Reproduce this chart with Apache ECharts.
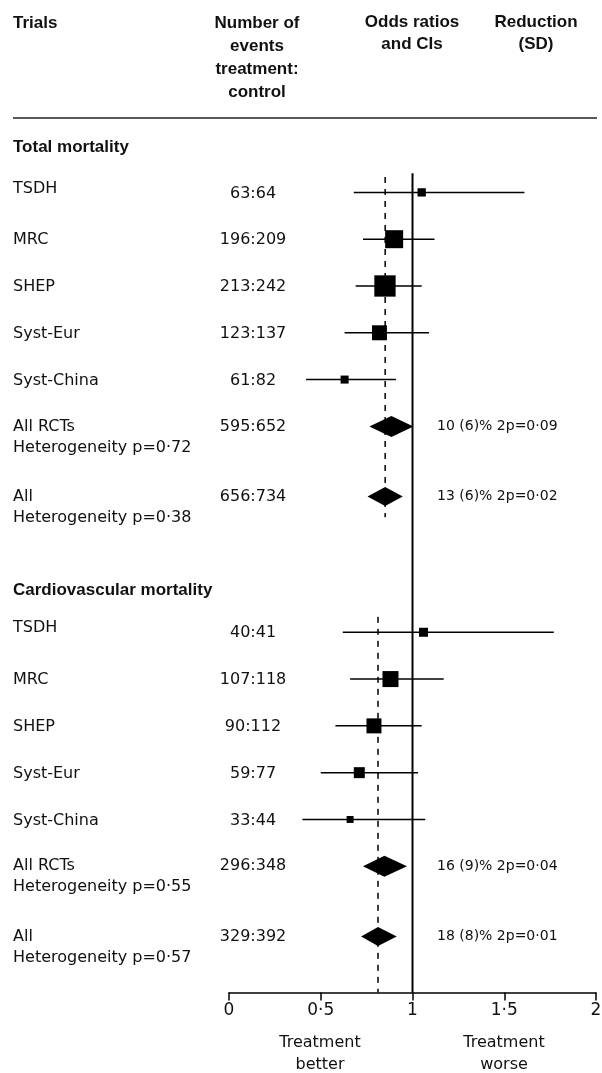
<!DOCTYPE html>
<html><head><meta charset="utf-8">
<script src="https://cdn.jsdelivr.net/npm/echarts@6/dist/echarts.min.js"></script>
<style>html,body{margin:0;padding:0;background:#fff}#c{width:602px;height:1073px}</style>
</head><body><div id="c"></div>
<script>
// ---------------- data ----------------
const trialNames = ['TSDH', 'MRC', 'SHEP', 'Syst-Eur', 'Syst-China'];
const sectionTitles = ['Total mortality', 'Cardiovascular mortality'];
const poolNames = ['All RCTs', 'All'];

// Total mortality
const totEvents = ['63:64', '196:209', '213:242', '123:137', '61:82'];
const totOR = [1.05, 0.90, 0.85, 0.82, 0.63];
const totLo = [0.68, 0.73, 0.69, 0.63, 0.42];
const totHi = [1.61, 1.12, 1.05, 1.09, 0.91];
const totWeight = [6.1, 28.7, 40.2, 19.9, 5.7];
const totPoolHet = ['Heterogeneity p=0·72', 'Heterogeneity p=0·38'];
const totPoolEvents = ['595:652', '656:734'];
const totPoolOR = [0.885, 0.851];
const totPoolLo = [0.765, 0.755];
const totPoolHi = [1.005, 0.947];
const totPoolReduction = ['10 (6)% 2p=0·09', '13 (6)% 2p=0·02'];

// Cardiovascular mortality
const cvEvents = ['40:41', '107:118', '90:112', '59:77', '33:44'];
const cvOR = [1.06, 0.88, 0.79, 0.71, 0.66];
const cvLo = [0.62, 0.66, 0.58, 0.50, 0.40];
const cvHi = [1.77, 1.17, 1.05, 1.03, 1.07];
const cvWeight = [7.2, 22.7, 19.9, 10.7, 4.3];
const cvPoolHet = ['Heterogeneity p=0·55', 'Heterogeneity p=0·57'];
const cvPoolEvents = ['296:348', '329:392'];
const cvPoolOR = [0.847, 0.812];
const cvPoolLo = [0.73, 0.72];
const cvPoolHi = [0.97, 0.914];
const cvPoolReduction = ['16 (9)% 2p=0·04', '18 (8)% 2p=0·01'];

const xTicks = [0, 0.5, 1, 1.5, 2];
const nullOR = 1;

// ---------------- layout (row slots) ----------------
const sectionStart = [0, 9.4];
const SLOT_MIN = -0.5, SLOT_MAX = 17.1;

const sections = [
  {ev: totEvents, or: totOR, lo: totLo, hi: totHi, w: totWeight,
   pHet: totPoolHet, pEv: totPoolEvents, pOR: totPoolOR, pLo: totPoolLo, pHi: totPoolHi, pRed: totPoolReduction},
  {ev: cvEvents, or: cvOR, lo: cvLo, hi: cvHi, w: cvWeight,
   pHet: cvPoolHet, pEv: cvPoolEvents, pOR: cvPoolOR, pLo: cvPoolLo, pHi: cvPoolHi, pRed: cvPoolReduction}
];

const trialData = [];   // [lo, or, hi, slot, weight]
const poolData = [];    // [lo, or, hi, slot, kind]
const labelRows = [];   // {slot, name, sub, events, red, nameShift}
const refData = [];     // [x, slotFrom, slotTo, dashed]

sections.forEach((s, si) => {
  const st = sectionStart[si];
  trialNames.forEach((n, i) => {
    trialData.push([s.lo[i], s.or[i], s.hi[i], st + i, s.w[i]]);
    labelRows.push({slot: st + i, name: n, sub: null, events: s.ev[i], red: null, nameShift: i === 0 ? -4 : 1});
  });
  poolNames.forEach((n, k) => {
    const slot = st + (k === 0 ? 5 : 6.5);
    poolData.push([s.pLo[k], s.pOR[k], s.pHi[k], slot, k]);
    labelRows.push({slot: slot, name: n, sub: s.pHet[k], events: s.pEv[k], red: s.pRed[k], nameShift: 0});
  });
  // dashed line at the overall pooled odds ratio
  refData.push([s.pOR[1], st - 0.33, si === 0 ? st + 6.94 : SLOT_MAX, 1]);
});
refData.push([nullOR, -0.41, SLOT_MAX, 0]);

const TXT = '#111';
const REG = '"DejaVu Sans", sans-serif';
const BOLD = '"Liberation Sans", Arial, sans-serif';

function boxSize(w) { return 3.36 * Math.sqrt(w); }

const chart = echarts.init(document.getElementById('c'), null, {renderer: 'canvas'});

function txt(text, x, y, opts) {
  return {
    type: 'text', silent: true,
    style: Object.assign({text: text, x: x, y: y, fill: TXT, fontSize: 16, fontFamily: REG,
      align: 'left', verticalAlign: 'middle'}, opts || {})
  };
}
const H = {fontSize: 17, fontFamily: BOLD, fontWeight: 'bold'};
const Hc = Object.assign({align: 'center'}, H);

const graphics = [
  txt('Trials', 13, 23, H),
  txt('Number of', 257, 23, Hc),
  txt('events', 257, 46, Hc),
  txt('treatment:', 257, 69, Hc),
  txt('control', 257, 92, Hc),
  txt('Odds ratios', 412, 22, Hc),
  txt('and CIs', 412, 44, Hc),
  txt('Reduction', 536, 22, Hc),
  txt('(SD)', 536, 44, Hc),
  {type: 'line', silent: true, shape: {x1: 13, y1: 118, x2: 597, y2: 118}, style: {stroke: '#222', lineWidth: 1.5}},
  txt(sectionTitles[0], 13, 147, H),
  txt(sectionTitles[1], 13, 590.5, H),
  txt('Treatment', 320, 1043, {align: 'center'}),
  txt('better', 320, 1065, {align: 'center'}),
  txt('Treatment', 504, 1043, {align: 'center'}),
  txt('worse', 504, 1065, {align: 'center'})
];

const option = {
  animation: false,
  backgroundColor: '#fff',
  grid: {left: 229, right: 6, top: 169, bottom: 80.4, containLabel: false, outerBoundsMode: 'none'},
  xAxis: {
    type: 'value', min: xTicks[0], max: xTicks[xTicks.length - 1], interval: xTicks[1] - xTicks[0],
    axisLine: {show: true, onZero: false, lineStyle: {color: '#000', width: 1.5}},
    axisTick: {show: true, inside: false, length: 8, lineStyle: {color: '#000', width: 1.5}},
    axisLabel: {show: true, margin: 9, fontSize: 17, fontFamily: REG, color: TXT,
      showMinLabel: true, showMaxLabel: true,
      formatter: v => String(v).replace('.', '·')},
    splitLine: {show: false}
  },
  yAxis: {type: 'value', min: SLOT_MIN, max: SLOT_MAX, inverse: true, show: false,
    splitLine: {show: false}},
  graphic: graphics,
  series: [
    {
      type: 'custom', name: 'refs', data: refData, encode: {x: 0, y: 1}, silent: true, z: 1,
      renderItem: (params, api) => {
        const p1 = api.coord([api.value(0), api.value(1)]);
        const p2 = api.coord([api.value(0), api.value(2)]);
        const dashed = api.value(3) === 1;
        return {type: 'line', shape: {x1: p1[0], y1: p1[1], x2: p2[0], y2: p2[1]},
          style: {stroke: '#000', lineWidth: dashed ? 1.5 : 2, lineDash: dashed ? [6, 6] : null}};
      }
    },
    {
      type: 'custom', name: 'trials', data: trialData, encode: {x: [0, 1, 2], y: 3}, silent: true, z: 3,
      renderItem: (params, api) => {
        const y = api.value(3);
        const pl = api.coord([api.value(0), y]);
        const ph = api.coord([api.value(2), y]);
        const pm = api.coord([api.value(1), y]);
        const s = boxSize(api.value(4));
        return {type: 'group', children: [
          {type: 'line', shape: {x1: pl[0], y1: pl[1], x2: ph[0], y2: ph[1]},
            style: {stroke: '#000', lineWidth: 1.5}},
          {type: 'rect', shape: {x: pm[0] - s / 2, y: pm[1] - s / 2, width: s, height: s},
            style: {fill: '#000'}}
        ]};
      }
    },
    {
      type: 'custom', name: 'pooled', data: poolData, encode: {x: [0, 1, 2], y: 3}, silent: true, z: 3,
      renderItem: (params, api) => {
        const y = api.value(3);
        const pl = api.coord([api.value(0), y]);
        const ph = api.coord([api.value(2), y]);
        const pm = api.coord([api.value(1), y]);
        const h = api.value(4) === 0 ? 10.5 : 9.5;
        return {type: 'polygon', shape: {points: [[pl[0], pl[1]], [pm[0], pm[1] - h], [ph[0], ph[1]], [pm[0], pm[1] + h]]},
          style: {fill: '#000'}};
      }
    },
    {
      type: 'custom', name: 'labels', data: labelRows.map((r, i) => [0, r.slot, i]), encode: {x: 0, y: 1},
      silent: true, z: 4,
      renderItem: (params, api) => {
        const r = labelRows[api.value(2)];
        const y = api.coord([0, api.value(1)])[1];
        const ch = [
          {type: 'text', style: {text: r.name, x: 13, y: y + r.nameShift, fill: TXT, fontSize: 16, fontFamily: REG, align: 'left', verticalAlign: 'middle'}},
          {type: 'text', style: {text: r.events, x: 253, y: y + (r.sub ? 0 : 1), fill: TXT, fontSize: 16, fontFamily: REG, align: 'center', verticalAlign: 'middle'}}
        ];
        if (r.sub) ch.push({type: 'text', style: {text: r.sub, x: 13, y: y + 21, fill: TXT, fontSize: 16, fontFamily: REG, align: 'left', verticalAlign: 'middle'}});
        if (r.red) ch.push({type: 'text', style: {text: r.red, x: 437, y: y, fill: TXT, fontSize: 14, fontFamily: REG, align: 'left', verticalAlign: 'middle'}});
        return {type: 'group', children: ch};
      }
    }
  ]
};
chart.setOption(option);
</script>
</body></html>
